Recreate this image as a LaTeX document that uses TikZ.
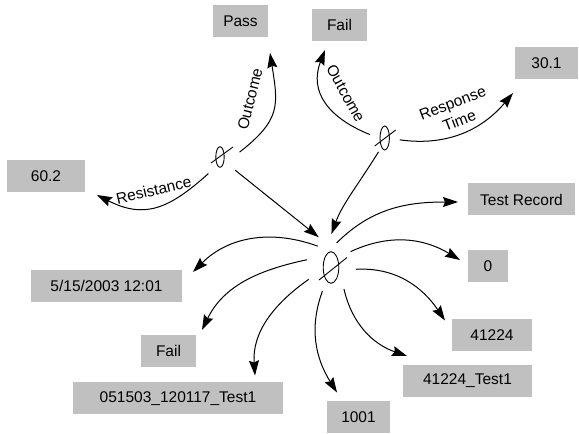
\documentclass[tikz,border=0pt]{standalone}
\usepackage{fontspec}
\setmainfont{Liberation Sans}
\usetikzlibrary{arrows.meta}
\definecolor{boxgray}{RGB}{192,192,192}

\begin{document}
\begin{tikzpicture}[x=1pt,y=1pt,>={Stealth[length=15pt,width=10pt,inset=2pt]},
  font=\fontsize{15.5}{19}\selectfont,
  rec/.style={fill=boxgray,minimum height=32pt,inner sep=0pt,outer sep=0pt},
  hub/.style={circle,minimum size=#1,inner sep=0pt},
  flow/.style={->,line width=1pt},
  tag/.style={inner sep=0pt,align=center}]
  \useasboundingbox (0,0) rectangle (579,434);
  % value boxes
  \node[rec,minimum width=55pt] (pass) at (240.5,413) {Pass};
  \node[rec,minimum width=78pt] (r602) at (46,258) {60.2};
  \node[rec,minimum width=55pt] (failtop) at (339.5,409) {Fail};
  \node[rec,minimum width=63pt] (r301) at (546.5,371) {30.1};
  \node[rec,minimum width=107pt] (trec) at (521.5,234.5) {Test Record};
  \node[rec,minimum width=40pt] (zero) at (488,167.5) {0};
  \node[rec,minimum width=80pt] (n41224) at (492,98.5) {41224};
  \node[rec,minimum width=129pt] (n41224t) at (467.5,53) {41224\_Test1};
  \node[rec,minimum width=63pt] (n1001) at (358.5,16.5) {1001};
  \node[rec,minimum width=151pt] (date) at (106.5,148) {5/15/2003 12:01};
  \node[rec,minimum width=55pt] (faillow) at (168.5,83) {Fail};
  \node[rec,minimum width=210pt] (tstamp) at (178,35.5) {051503\_120117\_Test1};
  % valves
  \node[hub=40pt] (lv) at (220,277) {};
  \draw[line width=0.9pt] (lv.center) ellipse [x radius=4.2pt,y radius=10.3pt];
  \draw[line width=0.9pt] (lv.center) ++(-9,-6) -- ++(22,16);
  \node[hub=30pt] (rv) at (384.7,296) {};
  \draw[line width=0.9pt] (rv.center) ellipse [x radius=4.7pt,y radius=12pt];
  \draw[line width=0.9pt] (rv.center) ++(-10,-8) -- ++(21,16);
  \node[hub=50pt] (cv) at (331,166.5) {};
  \draw[line width=0.9pt] (cv.center) ellipse [x radius=7.8pt,y radius=15.8pt];
  \draw[line width=0.9pt] (cv.center) ++(-12,-12.5) -- ++(28,22.5);
  % left valve
  \draw[flow] (lv.14) to[out=38,in=-81,looseness=1.3] ([shift={(2,-16)}]pass.south east);
  \draw[flow] (lv.235) to[out=-138,in=-27,looseness=1.2] ([shift={(12,-3)}]r602.south east);
  \draw[flow,shorten >=9pt] (lv.-41) -- (cv.102);
  \node[tag,rotate=76] (lout) at (250,335) {Outcome};
  \node[tag,rotate=13] (lres) at (153.7,244) {Resistance};
  % right valve
  \draw[flow] (rv.167) to[out=158,in=-111,looseness=1.2] ([shift={(13,-9)}]failtop.south west);
  \draw[flow] (rv.-7) to[out=-8,in=-130] ([shift={(-2,-14)}]r301.south west);
  \draw[flow,shorten >=9pt] (rv.246) to[out=-122,in=70] (cv.96);
  \node[tag,rotate=-61] (rout) at (345.7,340.7) {Outcome};
  \node[tag,rotate=21] (rtime) at (456,322) {Response\\Time};
  % record fields
  \draw[flow] (cv.77) to[out=45,in=180] ([shift={(-10,-2.5)}]trec.west);
  \draw[flow] (cv.39) to[out=25,in=149] ([shift={(-8,6.5)}]zero.west);
  \draw[flow] (cv.-4) to[out=3,in=124] ([shift={(-7,-1)}]n41224.north west);
  \draw[flow] (cv.-59) to[out=-77,in=161] ([shift={(4,9)}]n41224t.north west);
  \draw[flow] (cv.-110) to[out=-110,in=122] ([shift={(10,9)}]n1001.north west);
  \draw[flow] (cv.-152) to[out=-145,in=94] ([shift={(-28,7)}]tstamp.north east);
  \draw[flow] (cv.162) to[out=192,in=64] ([shift={(6,5)}]faillow.north east);
  \draw[flow] (cv.122) to[out=160,in=45] ([shift={(11,-2)}]date.north east);
\end{tikzpicture}
\end{document}
